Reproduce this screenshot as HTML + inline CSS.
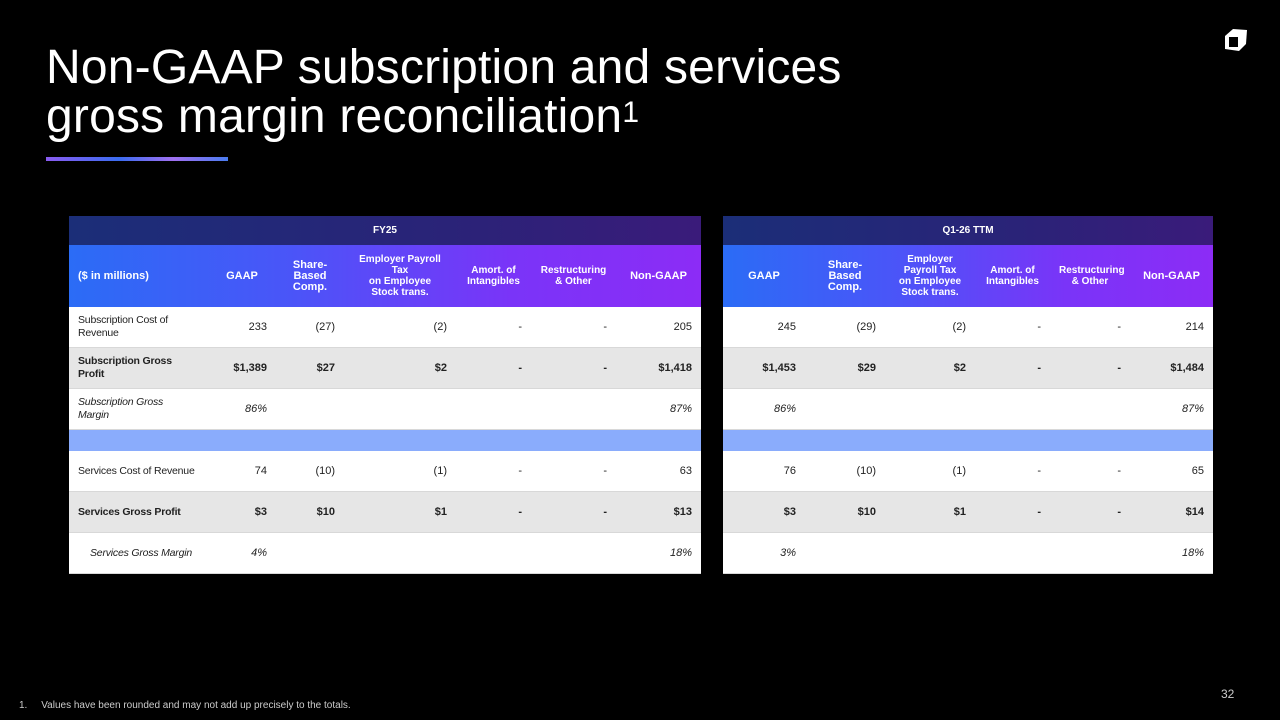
<!DOCTYPE html>
<html><head><meta charset="utf-8">
<style>
html,body{margin:0;padding:0;background:#000;width:1280px;height:720px;overflow:hidden;font-family:"Liberation Sans",sans-serif;}
.title{position:absolute;left:46px;top:43px;color:#fff;font-size:48px;line-height:49px;letter-spacing:0.2px;}
.title sup{font-size:30px;vertical-align:top;line-height:30px;position:relative;top:6px;}
.uline{position:absolute;left:46px;top:157px;width:182px;height:4px;background:linear-gradient(90deg,#8a5cf0,#3b6cf0 40%,#a070f0 70%,#4a7cf0);}
table{position:absolute;border-collapse:collapse;table-layout:fixed;font-size:11px;color:#222;}
td,th{padding:0 9px 0 9px;}
.top th{height:29px;color:#fff;font-size:10px;font-weight:bold;text-align:center;background:transparent;}
.sub th{height:62px;color:#fff;font-size:10px;font-weight:bold;text-align:center;line-height:11px;}
.sub th.big{font-size:11px;}
tr.r td{height:40px;text-align:right;background:#fff;border-bottom:1px solid #d8d8d8;}
tr.g td{background:#e6e6e6;font-weight:bold;}
tr.i td{font-style:italic;}
tr.blue td{height:21px;background:#8aacfc;border:none;}
tr.r td.lbl{text-align:left;line-height:13px;font-size:10.5px;letter-spacing:-0.2px;}
tr.r td.nw{white-space:nowrap;padding-right:0;}
.hdr1{background:linear-gradient(90deg,#1b2e78,#2a2378 60%,#3a1b7a);}
.hdr2{background:linear-gradient(90deg,#2b6cf6,#4a55f8 35%,#7a34f8 70%,#8c2cf6);}
.foot{position:absolute;left:19px;top:700px;color:#ccc;font-size:10px;}
.pg{position:absolute;left:1221px;top:687px;color:#ccc;font-size:12px;}
</style></head><body>
<div class="title">Non-GAAP subscription and services<br>gross margin reconciliation<sup>1</sup></div>
<div class="uline"></div>
<svg style="position:absolute;left:1222px;top:27px" width="28" height="26" viewBox="0 0 28 26">
<polygon points="3,9 11,2 25,3 24,17 17,24 3,22" fill="#fff"/>
<polygon points="7,10 16,10 16,20 7,20" fill="#000"/>
<polygon points="7,10 11,6 20,6 16,10" fill="#fff"/>
</svg>

<table style="left:69px;top:216px;width:632px;">
<colgroup><col style="width:139px"><col style="width:68px"><col style="width:68px"><col style="width:112px"><col style="width:75px"><col style="width:85px"><col style="width:85px"></colgroup>
<tr class="top hdr1"><th colspan="7">FY25</th></tr>
<tr class="sub hdr2"><th class="big" style="text-align:left">($ in millions)</th><th class="big">GAAP</th><th class="big">Share-<br>Based<br>Comp.</th><th>Employer Payroll<br>Tax<br>on Employee<br>Stock trans.</th><th>Amort. of<br>Intangibles</th><th>Restructuring<br>&amp; Other</th><th class="big">Non-GAAP</th></tr>
<tr class="r"><td class="lbl">Subscription Cost of<br>Revenue</td><td>233</td><td>(27)</td><td>(2)</td><td>-</td><td>-</td><td>205</td></tr>
<tr class="r g"><td class="lbl">Subscription Gross<br>Profit</td><td>$1,389</td><td>$27</td><td>$2</td><td>-</td><td>-</td><td>$1,418</td></tr>
<tr class="r i"><td class="lbl">Subscription Gross<br>Margin</td><td>86%</td><td></td><td></td><td></td><td></td><td>87%</td></tr>
<tr class="blue"><td colspan="7"></td></tr>
<tr class="r"><td class="lbl nw">Services Cost of Revenue</td><td>74</td><td>(10)</td><td>(1)</td><td>-</td><td>-</td><td>63</td></tr>
<tr class="r g"><td class="lbl nw">Services Gross Profit</td><td>$3</td><td>$10</td><td>$1</td><td>-</td><td>-</td><td>$13</td></tr>
<tr class="r i"><td class="lbl nw" style="padding-left:21px">Services Gross Margin</td><td>4%</td><td></td><td></td><td></td><td></td><td>18%</td></tr>
</table>

<table style="left:723px;top:216px;width:490px;">
<colgroup><col style="width:82px"><col style="width:80px"><col style="width:90px"><col style="width:75px"><col style="width:80px"><col style="width:83px"></colgroup>
<tr class="top hdr1"><th colspan="6">Q1-26 TTM</th></tr>
<tr class="sub hdr2"><th class="big">GAAP</th><th class="big">Share-<br>Based<br>Comp.</th><th>Employer<br>Payroll Tax<br>on Employee<br>Stock trans.</th><th>Amort. of<br>Intangibles</th><th>Restructuring<br>&amp; Other</th><th class="big">Non-GAAP</th></tr>
<tr class="r"><td>245</td><td>(29)</td><td>(2)</td><td>-</td><td>-</td><td>214</td></tr>
<tr class="r g"><td>$1,453</td><td>$29</td><td>$2</td><td>-</td><td>-</td><td>$1,484</td></tr>
<tr class="r i"><td>86%</td><td></td><td></td><td></td><td></td><td>87%</td></tr>
<tr class="blue"><td colspan="6"></td></tr>
<tr class="r"><td>76</td><td>(10)</td><td>(1)</td><td>-</td><td>-</td><td>65</td></tr>
<tr class="r g"><td>$3</td><td>$10</td><td>$1</td><td>-</td><td>-</td><td>$14</td></tr>
<tr class="r i"><td>3%</td><td></td><td></td><td></td><td></td><td>18%</td></tr>
</table>

<div class="foot">1.&nbsp;&nbsp;&nbsp;&nbsp;&nbsp;Values have been rounded and may not add up precisely to the totals.</div>
<div class="pg">32</div>
</body></html>
